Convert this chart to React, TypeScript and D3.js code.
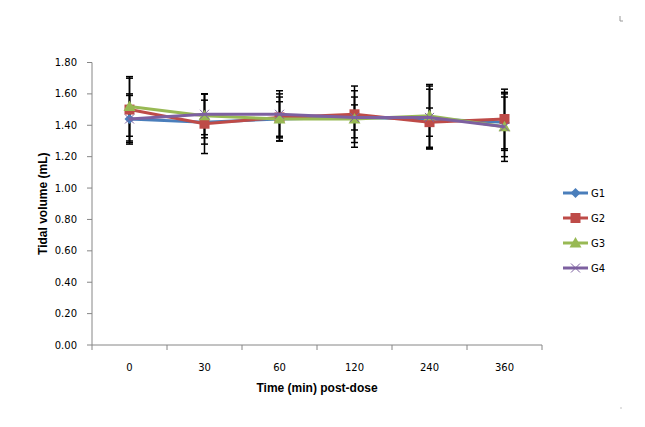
import React from "react";
import * as d3 from "d3";

const categories = ["0", "30", "60", "120", "240", "360"];
const seriesNames = ["G1", "G2", "G3", "G4"];
const colors = ["#4a7ebb", "#be4b48", "#98b954", "#7d60a0"];
const g1 = [1.44, 1.42, 1.44, 1.45, 1.44, 1.42];
const g2 = [1.50, 1.41, 1.45, 1.47, 1.42, 1.44];
const g3 = [1.52, 1.46, 1.44, 1.44, 1.46, 1.39];
const g4 = [1.44, 1.47, 1.47, 1.45, 1.45, 1.39];
const e1 = [0.15, 0.14, 0.14, 0.13, 0.19, 0.18];
const e2 = [0.20, 0.19, 0.15, 0.18, 0.09, 0.19];
const e3 = [0.19, 0.14, 0.11, 0.18, 0.20, 0.22];
const e4 = [0.16, 0.13, 0.15, 0.08, 0.20, 0.19];
const yTicks = [0, 0.2, 0.4, 0.6, 0.8, 1.0, 1.2, 1.4, 1.6, 1.8];

const values = [g1, g2, g3, g4];
const errors = [e1, e2, e3, e4];

function Marker({ i, x, y, c }: { i: number; x: number; y: number; c: string }) {
  if (i === 0) {
    const s = 5;
    return <path d={`M${x},${y - s}L${x + s},${y}L${x},${y + s}L${x - s},${y}Z`} fill={c} />;
  }
  if (i === 1) {
    return <rect x={x - 5} y={y - 5} width={10} height={10} fill={c} />;
  }
  if (i === 2) {
    return <path d={`M${x},${y - 6}L${x + 6},${y + 4.5}L${x - 6},${y + 4.5}Z`} fill={c} />;
  }
  const s = 4.5;
  return (
    <path d={`M${x - s},${y - s}L${x + s},${y + s}M${x - s},${y + s}L${x + s},${y - s}`} stroke={c} strokeWidth={1} fill="none" />
  );
}

export default function App() {
  const W = 645, H = 427;
  const x0 = 92, x1 = 542, yTop = 62.5, yBot = 345;
  const x = d3.scaleBand().domain(categories).range([x0, x1]);
  const y = d3.scaleLinear().domain([0, 1.8]).range([yBot, yTop]);
  const cx = (c: string) => (x(c) as number) + x.bandwidth() / 2;
  const line = d3.line<number>().x((_, i) => cx(categories[i])).y((v) => y(v));
  const font = "'DejaVu Sans', Verdana, sans-serif";
  const axisColor = "#868686";
  const boundaries = categories.map((c) => x(c) as number).concat([x1]);

  return (
    <svg width={W} height={H} style={{ position: "absolute", left: 0, top: 0 }}>
      <rect width={W} height={H} fill="#fff" />
      {/* Y axis */}
      <line x1={x0} x2={x0} y1={yTop} y2={yBot} stroke={axisColor} />
      {yTicks.map((t) => (
        <g key={t}>
          <line x1={x0 - 5} x2={x0} y1={y(t)} y2={y(t)} stroke={axisColor} />
          <text x={77} y={y(t)} dy="0.35em" textAnchor="end" fontSize={10} fontFamily={font} fill="#000">
            {t.toFixed(2)}
          </text>
        </g>
      ))}
      {/* X axis */}
      <line x1={x0} x2={x1} y1={yBot} y2={yBot} stroke={axisColor} />
      {boundaries.map((b, i) => (
        <line key={i} x1={b} x2={b} y1={yBot} y2={yBot + 5} stroke={axisColor} />
      ))}
      {categories.map((c) => (
        <text key={c} x={cx(c)} y={367} dy="0.35em" textAnchor="middle" fontSize={10} fontFamily={font} fill="#000">
          {c}
        </text>
      ))}
      <text x={(x0 + x1) / 2} y={388} dy="0.35em" textAnchor="middle" fontSize={12} fontWeight="bold" fontFamily="'Liberation Sans', Arial, sans-serif">
        Time (min) post-dose
      </text>
      <text transform={`translate(43,${(yTop + yBot) / 2}) rotate(-90)`} dy="0.35em" textAnchor="middle" fontSize={12} fontWeight="bold" fontFamily="'Liberation Sans', Arial, sans-serif">
        Tidal volume (mL)
      </text>
      {/* Error bars */}
      {values.map((vals, si) =>
        vals.map((v, i) => {
          const px = cx(categories[i]);
          const hi = y(v + errors[si][i]);
          const lo = y(v - errors[si][i]);
          return (
            <g key={`e${si}-${i}`} stroke="#000" strokeWidth={1.5}>
              <line x1={px} x2={px} y1={hi} y2={lo} />
              <line x1={px - 3.5} x2={px + 3.5} y1={hi} y2={hi} />
              <line x1={px - 3.5} x2={px + 3.5} y1={lo} y2={lo} />
            </g>
          );
        })
      )}
      {/* Lines and markers */}
      {values.map((vals, si) => (
        <g key={`s${si}`}>
          <path d={line(vals) || ""} fill="none" stroke={colors[si]} strokeWidth={3} strokeLinejoin="round" />
          {vals.map((v, i) => (
            <Marker key={i} i={si} x={cx(categories[i])} y={y(v)} c={colors[si]} />
          ))}
        </g>
      ))}
      {/* Legend */}
      {seriesNames.map((n, i) => {
        const ly = 193 + i * 25;
        return (
          <g key={n}>
            <line x1={563} x2={588} y1={ly} y2={ly} stroke={colors[i]} strokeWidth={3} />
            <Marker i={i} x={575.5} y={ly} c={colors[i]} />
            <text x={591} y={ly} dy="0.35em" fontSize={10} fontFamily={font} fill="#000">
              {n}
            </text>
          </g>
        );
      })}
      {/* corner marks */}
      <path d="M620,16L620,21L623,21" stroke="#999" fill="none" strokeWidth={1} />
      <rect x={620.5} y={407.5} width={1} height={1} fill="#888" />
    </svg>
  );
}
